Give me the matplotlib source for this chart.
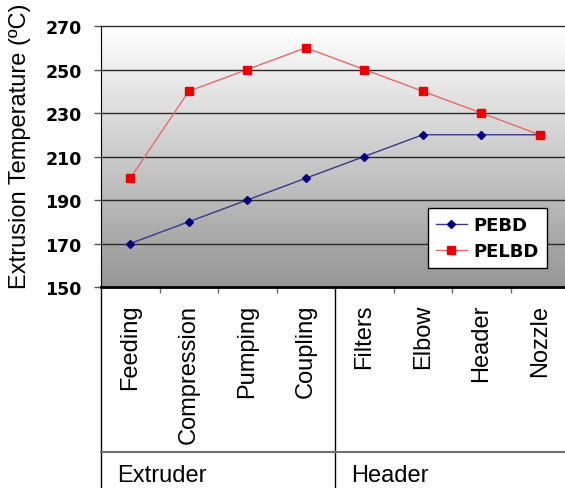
import numpy as np
import matplotlib.pyplot as plt
from matplotlib.colors import LinearSegmentedColormap
from matplotlib.transforms import blended_transform_factory

stages = ["Feeding", "Compression", "Pumping", "Coupling",
          "Filters", "Elbow", "Header", "Nozzle"]
groups = ["Extruder", "Header"]
group_sizes = [4, 4]
pebd = [170, 180, 190, 200, 210, 220, 220, 220]
pelbd = [200, 240, 250, 260, 250, 240, 230, 220]
yticks = [150, 170, 190, 210, 230, 250, 270]

W, H = 565, 489
fig = plt.figure(figsize=(W / 100, H / 100), dpi=100)
fig.patch.set_facecolor("white")
ax = fig.add_axes([101 / W, 1 - 288 / H, 468 / W, 261 / H])

x = np.arange(len(stages))
xmin, xmax = -0.5, len(stages) - 0.5
ax.set_xlim(xmin, xmax)
ax.set_ylim(yticks[0], yticks[-1])

# white-to-grey vertical gradient behind the plot
grad = LinearSegmentedColormap.from_list("bg", ["#969696", "#ffffff"])
ax.imshow(np.linspace(0, 1, 256)[:, None], cmap=grad, origin="lower",
          extent=[xmin, xmax, yticks[0], yticks[-1]], aspect="auto", zorder=0)

for y in yticks[1:]:
    ax.axhline(y, color="#2a2a2a", lw=1.0, zorder=1, clip_on=False)

ax.plot(x, pebd, color="#3a3a86", lw=1.0, marker="D", ms=4.2,
        mfc="#000080", mec="#000080", label="PEBD", zorder=3)
ax.plot(x, pelbd, color="#e86a6a", lw=1.0, marker="s", ms=5.2,
        mfc="#ee0000", mec="#ee0000", label="PELBD", zorder=3)

ax.set_yticks(yticks)
ax.set_yticklabels([str(v) for v in yticks], fontsize=12.5,
                   fontweight="bold", family="DejaVu Sans")
ax.tick_params(axis="y", length=5, width=1, color="#555555", pad=9)

ax.set_xticks(x)
ax.set_xticklabels(stages, rotation=90, fontsize=17, family="Liberation Sans")
ax.tick_params(axis="x", which="major", length=0, pad=12)
bounds = np.cumsum(group_sizes)[:-1] - 0.5
minor = [b + 0.5 for b in x[:-1] if b + 0.5 not in bounds]
ax.set_xticks(minor, minor=True)
ax.tick_params(axis="x", which="minor", length=4, width=1, color="#666666")

for s in ["top", "right"]:
    ax.spines[s].set_visible(False)
ax.spines["left"].set_color("black")
ax.spines["bottom"].set_color("black")
ax.spines["bottom"].set_linewidth(2)
ax.spines["bottom"].set_zorder(4)

# group table below the category labels
tr = blended_transform_factory(ax.transData, fig.transFigure)
y_axis = 1 - 288 / H
y_sep = 1 - 453 / H
ax.plot([xmin, xmin], [0, y_axis], color="black", lw=1, transform=tr, clip_on=False)
for b in bounds:
    ax.plot([b, b], [0, y_axis], color="black", lw=1, transform=tr, clip_on=False)
ax.plot([xmin, xmax], [y_sep, y_sep], color="#707070", lw=1.5, transform=tr,
        clip_on=False)
starts = [xmin] + list(bounds)
for name, s in zip(groups, starts):
    ax.text(s + 0.27, 1 - 476 / H, name, transform=tr, fontsize=17,
            family="Liberation Sans", ha="left", va="center")

fig.text(20 / W, 1 - 146 / H, "Extrusion Temperature (ºC)", rotation=90,
         fontsize=17, family="Liberation Sans", ha="center", va="center")

leg = ax.legend(loc="upper left", bbox_to_anchor=(428 / W, 1 - 209 / H),
                bbox_transform=fig.transFigure, borderaxespad=0,
                fancybox=False, framealpha=1, edgecolor="black",
                prop={"family": "DejaVu Sans", "weight": "bold", "size": 13},
                handlelength=1.7, handletextpad=0.35, borderpad=0.45,
                labelspacing=0.45)
leg.get_frame().set_linewidth(1)
leg.set_zorder(5)

fig.savefig("out.png", dpi=100)
